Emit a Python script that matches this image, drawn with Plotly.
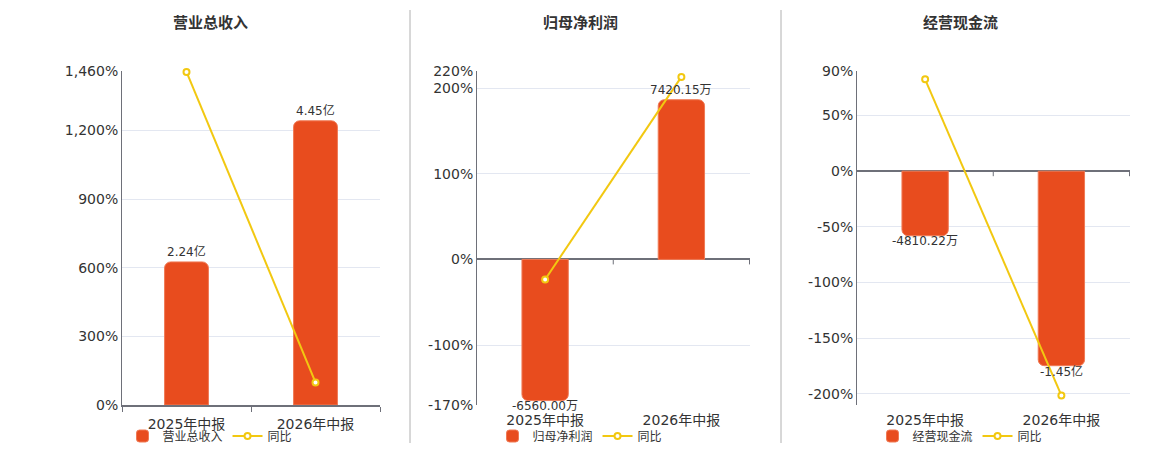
import plotly.graph_objects as go

categories = ["2025年中报", "2026年中报"]

titles = ["营业总收入", "归母净利润", "经营现金流"]

# bar values (hidden axis) and their labels
revenue = [2.24, 4.45]          # 亿
revenue_text = ["2.24亿", "4.45亿"]
profit = [-6560.00, 7420.15]    # 万
profit_text = ["-6560.00万", "7420.15万"]
cashflow = [-4810.22, -14500.0]  # 万
cashflow_text = ["-4810.22万", "-1.45亿"]

# 同比 (%)
revenue_yoy = [1456.0, 98.7]
profit_yoy = [-23.4, 213.1]
cashflow_yoy = [82.5, -201.4]

# percent axis ranges / ticks
pct_ranges = [[0, 1460], [-170, 220], [-210, 90]]
pct_ticks = [[0, 300, 600, 900, 1200, 1460],
             [-170, -100, 0, 100, 200, 220],
             [-200, -150, -100, -50, 0, 50, 90]]
# hidden bar axis scale (bar units per percent)
bar_scale = [5.23 / 1460, 39.8, 83.0]

BAR = "#E84C1E"
LINE = "#F2C811"
AXIS = "#6E7079"
GRID = "#E3E7F1"
TXT = "#333333"
FONT = "DejaVu Sans, Noto Sans CJK SC, sans-serif"

W, H = 1160, 450
plot_x = [(122, 380), (477, 750), (857, 1130)]
plot_top, plot_bot = 71, 405
centers = [210, 580, 960]

bars = [revenue, profit, cashflow]
bar_texts = [revenue_text, profit_text, cashflow_text]
yoys = [revenue_yoy, profit_yoy, cashflow_yoy]

fig = go.Figure()
layout = dict(
    width=W, height=H,
    margin=dict(l=0, r=0, t=0, b=0, autoexpand=False),
    paper_bgcolor="white", plot_bgcolor="white",
    font=dict(family=FONT, color=TXT, size=13),
    barcornerradius=6,
    bargap=0.66,
    annotations=[], shapes=[],
)

ydom = [1 - plot_bot / H, 1 - plot_top / H]

for i in range(3):
    n = i + 1
    xname = "x" if n == 1 else f"x{n}"
    yb = f"y{2 * n - 1}" if n > 1 else "y"
    yl = f"y{2 * n}"
    legend = "legend" if n == 1 else f"legend{n}"

    lo, hi = pct_ranges[i]
    k = bar_scale[i]

    fig.add_trace(go.Bar(
        x=categories, y=bars[i],
        marker=dict(color=BAR, line=dict(color="#F07A55", width=1)),
        name=titles[i], xaxis=xname, yaxis=yb, legend=legend,
        hoverinfo="skip",
    ))
    fig.add_trace(go.Scatter(
        x=categories, y=yoys[i], mode="lines+markers",
        line=dict(color=LINE, width=2),
        marker=dict(size=6, color="white", line=dict(color=LINE, width=2)),
        name="同比", xaxis=xname, yaxis=yl, legend=legend, cliponaxis=False,
        hoverinfo="skip",
    ))

    # value labels at the bar ends
    for c, v, t in zip(categories, bars[i], bar_texts[i]):
        layout["annotations"].append(dict(
            text=t, x=c, y=v, xref=xname, yref=yb, showarrow=False,
            xanchor="center", yanchor="bottom" if v >= 0 else "top",
            yshift=2 if v >= 0 else 3, borderpad=0,
            font=dict(size=12, color=TXT),
        ))

    x0, x1 = plot_x[i]
    layout["xaxis" if n == 1 else f"xaxis{n}"] = dict(
        domain=[x0 / W, x1 / W], anchor=yl,
        type="category", showgrid=False, zeroline=False,
        showline=(n == 1), linecolor=AXIS, linewidth=2,
        ticks="outside", tickson="boundaries", ticklen=5,
        tickcolor=AXIS if n == 1 else "rgba(0,0,0,0)",
        ticklabelstandoff=5,
        tickfont=dict(size=14, color=TXT),
        fixedrange=True,
    )
    layout["yaxis" if n == 1 else f"yaxis{2 * n - 1}"] = dict(
        domain=ydom, anchor=xname, range=[lo * k, hi * k],
        visible=False, showgrid=False, zeroline=False,
    )
    layout[f"yaxis{2 * n}"] = dict(
        domain=ydom, anchor=xname, overlaying=yb, side="left",
        range=[lo, hi], tickvals=pct_ticks[i],
        ticktext=[f"{v:,}%" for v in pct_ticks[i]],
        showgrid=True, gridcolor=GRID, gridwidth=1,
        zeroline=True, zerolinecolor=AXIS, zerolinewidth=2,
        showline=True, linecolor=AXIS, linewidth=1,
        tickfont=dict(size=14, color=TXT), ticks="",
    )
    layout[legend] = dict(
        orientation="h", x=centers[i] / W, xanchor="center",
        y=1 - 436 / H, yanchor="middle",
        font=dict(size=12, color=TXT), bgcolor="rgba(0,0,0,0)",
        itemwidth=30,
    )
    layout["annotations"].append(dict(
        text=f"<b>{titles[i]}</b>", x=centers[i] / W, y=1 - 22 / H,
        xref="paper", yref="paper", showarrow=False,
        xanchor="center", yanchor="middle",
        font=dict(size=15, color=TXT, family="Noto Sans CJK SC"),
    ))
    # small ticks on the zero line at category boundaries
    if n > 1:
        for b in [0.5, 1.5]:
            layout["shapes"].append(dict(
                type="line", xref=xname, yref=yl,
                ysizemode="pixel", yanchor=0,
                x0=b, x1=b, y0=0, y1=-5,
                line=dict(color=AXIS, width=1),
            ))

# column separators
for sx in [410, 781]:
    layout["shapes"].append(dict(
        type="line", xref="paper", yref="paper",
        x0=sx / W, x1=sx / W, y0=1 - 443 / H, y1=1 - 10 / H,
        line=dict(color="#B0B0B0", width=1),
    ))

fig.update_layout(**layout)
fig.write_html("out.html", config={"displayModeBar": False},
               post_script="document.body.style.margin='0';")
